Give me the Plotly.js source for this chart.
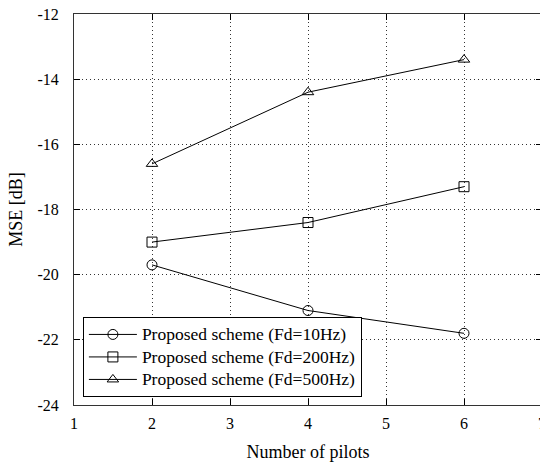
<!DOCTYPE html>
<html>
<head>
<meta charset="utf-8">
<script src="https://cdn.plot.ly/plotly-3.0.1.min.js"></script>
<style>
html, body { margin: 0; padding: 0; overflow: hidden; background: #fff; }
#chart { width: 543px; height: 462px; }
.legendtext { font-size: 17.5px !important; }
</style>
</head>
<body>
<div id="chart"></div>
<script>
const pilots = [2, 4, 6];
const mse10Hz = [-19.7, -21.1, -21.8];
const mse200Hz = [-19.0, -18.4, -17.3];
const mse500Hz = [-16.6, -14.4, -13.4];
const seriesNames = ['Proposed scheme (Fd=10Hz)', 'Proposed scheme (Fd=200Hz)', 'Proposed scheme (Fd=500Hz)'];
const xTickVals = [1, 2, 3, 4, 5, 6, 7];
const xTickText = ['1', '2', '3', '4', '5', '6', '7'];
const yTickVals = [-24, -22, -20, -18, -16, -14, -12];
const yTickText = ['-24', '-22', '-20', '-18', '-16', '-14', '-12'];

const serif = 'Liberation Serif';
function tr(y, name, symbol) {
  return {
    x: pilots, y: y, name: name, type: 'scatter', mode: 'lines+markers',
    line: { color: '#000', width: 1 },
    marker: { symbol: symbol, size: 10, color: '#000', line: { color: '#000', width: 1 } }
  };
}
const data = [
  tr(mse10Hz, seriesNames[0], 'circle-open'),
  tr(mse200Hz, seriesNames[1], 'square-open'),
  tr(mse500Hz, seriesNames[2], 'triangle-up-open')
];
const axisCommon = {
  showline: true, linecolor: '#333', linewidth: 1, mirror: 'allticks',
  ticks: 'inside', ticklen: 6, tickcolor: '#000',
  showgrid: true, gridcolor: '#333', griddash: '1px,3px', gridwidth: 1,
  zeroline: false, tickfont: { family: serif, size: 16, color: '#000' },
  ticklabeloverflow: 'allow'
};
const layout = {
  width: 543, height: 462,
  margin: { l: 74, r: 1, t: 14, b: 57 },
  paper_bgcolor: '#fff', plot_bgcolor: '#fff',
  font: { family: serif, color: '#000' },
  showlegend: true,
  xaxis: Object.assign({}, axisCommon, {
    range: [1, 7], tickmode: 'array', tickvals: xTickVals, ticktext: xTickText,
    ticklabelstandoff: 4,
    title: { text: 'Number of pilots', font: { family: serif, size: 18, color: '#000' }, standoff: 14 }
  }),
  yaxis: Object.assign({}, axisCommon, {
    range: [-24, -12], tickmode: 'array', tickvals: yTickVals, ticktext: yTickText,
    ticklabelstandoff: 11,
    title: { text: 'MSE [dB]', font: { family: serif, size: 18, color: '#000' }, standoff: 10 }
  }),
  legend: {
    x: 0.019, y: 0.02, xanchor: 'left', yanchor: 'bottom',
    bgcolor: '#fff', bordercolor: '#000', borderwidth: 1,
    font: { family: serif, size: 15, color: '#000' },
    itemwidth: 48, tracegroupgap: 0
  }
};
Plotly.newPlot('chart', data, layout, { displayModeBar: false, staticPlot: true });
</script>
</body>
</html>
